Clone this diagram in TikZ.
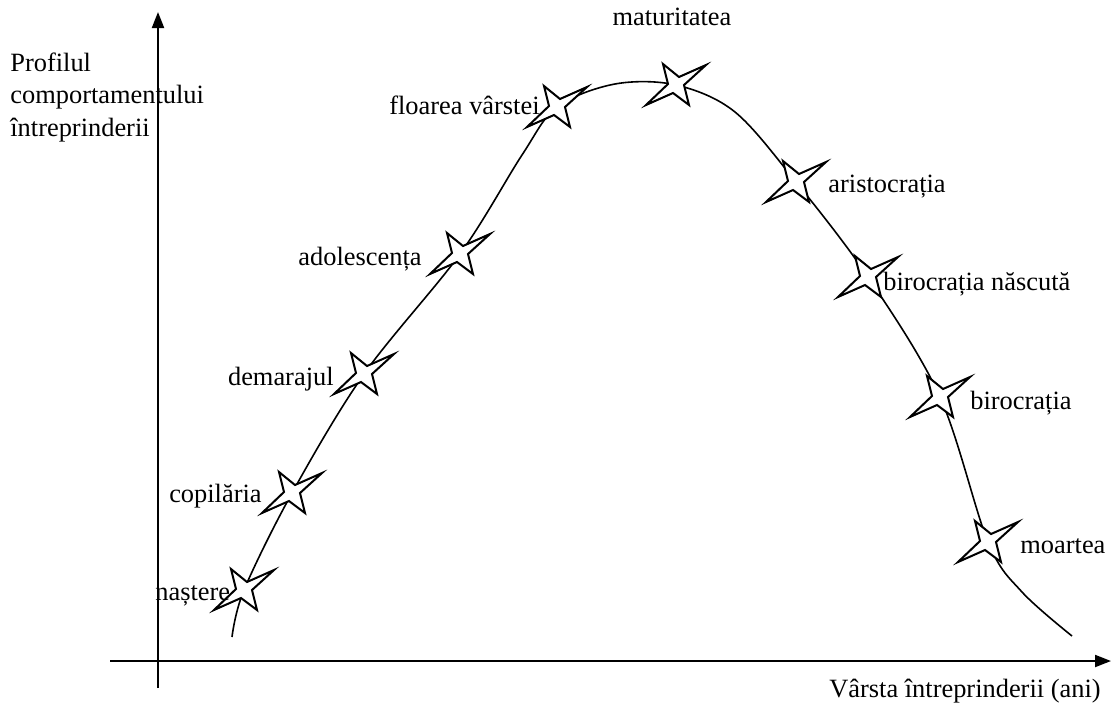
\documentclass[tikz,border=0pt]{standalone}
\usepackage{fontspec}
\setmainfont{Liberation Serif}
\usetikzlibrary{arrows.meta}
\tikzset{
  lbl/.style={inner sep=0pt, font=\fontsize{13.2}{16.5}\selectfont},
  axisline/.style={line width=1pt, -{Triangle[length=8pt,width=6pt]}},
  lifecurve/.style={line width=0.8pt},
  lifestar/.pic={
    \draw[line width=1pt, fill=white, line join=miter]
      (-13,-21) -- (3,-8) -- (30,-20) -- (8,0) -- (13,20)
      -- (-3,8) -- (-30,20) -- (-8,-1) -- cycle;
  }
}
\begin{document}
\begin{tikzpicture}[x=0.5pt,y=-0.5pt]
\useasboundingbox (0,0) rectangle (1112,702);

% axes
\coordinate (ybot) at (158,688);
\coordinate (ytop) at (158,12);
\coordinate (xleft) at (110,661);
\coordinate (xright) at (1111,661);
\draw[axisline] (ybot) -- (ytop);
\draw[axisline] (xleft) -- (xright);

% life-cycle stages
\coordinate (s0) at (232,637);
\coordinate (s1) at (244,590);
\coordinate (s2) at (292,493);
\coordinate (s3) at (364,374);
\coordinate (s4) at (460,254);
\coordinate (s5) at (557,107);
\coordinate (s6) at (676,85);
\coordinate (s7) at (796,182);
\coordinate (s8) at (868,277);
\coordinate (s9) at (940,397);
\coordinate (s10) at (988,542);
\coordinate (s11) at (1072,636);

\draw[lifecurve] plot[smooth, tension=0.55] coordinates {
  (s0) (s1) (s2) (s3) (s4) (522,155) (s5) (615,84) (s6) (735,112)
  (s7) (s8) (s9) (s10) (1022,592) (s11)};

\foreach \s in {s1,s2,s3,s4,s5,s6,s7,s8,s9,s10}
  \pic at (\s) {lifestar};

% labels
\node[lbl, anchor=base west] (ylab1) at (10,71) {Profilul};
\node[lbl, anchor=base west] (ylab2) at (10,103) {comportamentului};
\node[lbl, anchor=base west] (ylab3) at (10,136) {întreprinderii};
\node[lbl, anchor=base east] (xlab) at (1101,697) {Vârsta întreprinderii (ani)};

\node[lbl, anchor=base west] (l1) at (155,600) {naștere};
\node[lbl, anchor=base east] (l2) at (262,502) {copilăria};
\node[lbl, anchor=base east] (l3) at (334,385) {demarajul};
\node[lbl, anchor=base east] (l4) at (422,265) {adolescența};
\node[lbl, anchor=base east] (l5) at (540,114) {floarea vârstei};
\node[lbl, anchor=base] (l6) at (672,25) {maturitatea};
\node[lbl, anchor=base west] (l7) at (828,192) {aristocrația};
\node[lbl, anchor=base west] (l8) at (883,290) {birocrația născută};
\node[lbl, anchor=base west] (l9) at (970,409) {birocrația};
\node[lbl, anchor=base west] (l10) at (1020,553) {moartea};
\end{tikzpicture}
\end{document}
